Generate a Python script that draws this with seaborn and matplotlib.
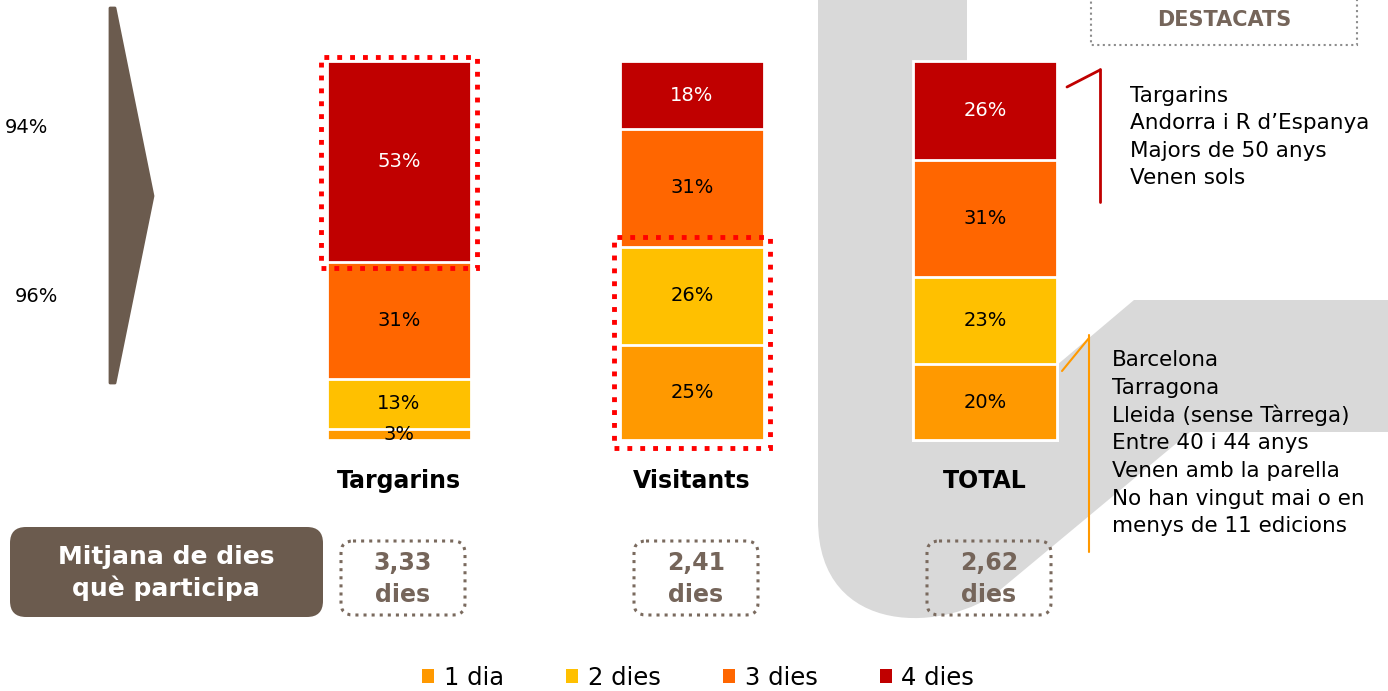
import pandas as pd
import matplotlib.pyplot as plt
import seaborn as sns
from matplotlib.patches import Polygon, FancyBboxPatch, Rectangle, PathPatch, Patch
from matplotlib.path import Path

# data
groups = ['Targarins', 'Visitants', 'TOTAL']
levels = ['1 dia', '2 dies', '3 dies', '4 dies']
dia1 = [3, 25, 20]
dies2 = [13, 26, 23]
dies3 = [31, 31, 31]
dies4 = [53, 18, 26]
mitjana = ['3,33', '2,41', '2,62']
side_pcts = ['94%', '96%']
top_notes = ['Targarins', 'Andorra i R d’Espanya', 'Majors de 50 anys', 'Venen sols']
bottom_notes = ['Barcelona', 'Tarragona', 'Lleida (sense Tàrrega)', 'Entre 40 i 44 anys',
                'Venen amb la parella', 'No han vingut mai o en', 'menys de 11 edicions']

colors = {'1 dia': '#FF9900', '2 dies': '#FFC000', '3 dies': '#FF6600', '4 dies': '#C00000'}
brown = '#6B5B4E'
grey = '#D9D9D9'

sns.set_style('white')
plt.rcParams['font.family'] = ['DejaVu Sans']
plt.rcParams['text.color'] = 'black'

df = pd.DataFrame({'grup': groups, '1 dia': dia1, '2 dies': dies2,
                   '3 dies': dies3, '4 dies': dies4})
cum = df[levels].cumsum(axis=1)

W, H = 1388, 691
fig = plt.figure(figsize=(W / 100, H / 100), dpi=100)

bg = fig.add_axes([0, 0, 1, 1], zorder=0)
bg.set_xlim(0, W)
bg.set_ylim(H, 0)
bg.axis('off')

ax = fig.add_axes([0, 0, 1, 1], zorder=1)
ax.patch.set_alpha(0)

fg = fig.add_axes([0, 0, 1, 1], zorder=2)
fg.patch.set_alpha(0)
fg.set_xlim(0, W)
fg.set_ylim(H, 0)
fg.axis('off')

# grey background band
verts = [(818, -5), (967, -5), (967, 441), (1134, 300), (1395, 300), (1395, 432),
         (1190, 432), (1000, 590), (950, 632), (818, 640), (818, 520), (818, -5)]
codes = [Path.MOVETO] + [Path.LINETO] * 7 + [Path.CURVE4] * 3 + [Path.CLOSEPOLY]
bg.add_patch(PathPatch(Path(verts, codes), facecolor=grey, edgecolor='none'))

# brown arrow on the left
bg.add_patch(Polygon([(110, 8), (115, 8), (153, 196), (115, 383), (110, 383)],
                     closed=True, facecolor=brown, edgecolor=brown, lw=2, joinstyle='round'))
bg.text(26, 127, side_pcts[0], fontsize=14, ha='center', va='center')
bg.text(36, 296, side_pcts[1], fontsize=14, ha='center', va='center')

# stacked bars, drawn as cumulative totals from the top level down
for lvl in reversed(levels):
    sns.barplot(x=df['grup'], y=cum[lvl], color=colors[lvl], saturation=1, width=0.49,
                edgecolor='white', linewidth=2, ax=ax)

for i in range(len(groups)):
    for lvl in levels:
        v = df.loc[i, lvl]
        ax.text(i, cum.loc[i, lvl] - v / 2, f'{v}%', ha='center', va='center', fontsize=14,
                color='white' if lvl == '4 dies' else 'black')
    ax.text(i, -10.8, groups[i], ha='center', va='center', fontsize=17, fontweight='bold')

# red dotted highlight boxes
ax.add_patch(Rectangle((-0.265, cum.loc[0, '3 dies'] - 1.6), 0.53, 100 - cum.loc[0, '3 dies'] + 2.6,
                       fill=False, ec='red', lw=3.5, ls=':', zorder=5))
ax.add_patch(Rectangle((1 - 0.265, -2.1), 0.53, cum.loc[1, '2 dies'] + 4.7,
                       fill=False, ec='red', lw=3.5, ls=':', zorder=5))

ax.set_xlim(-399 / 293, (W - 399) / 293)
ax.set_ylim(-(H - 440) / 3.79, 100 + 61 / 3.79)
ax.axis('off')

# DESTACATS box
fg.add_patch(Rectangle((1091, -5), 266, 50, fill=False, ec='#8C8C8C', lw=1.5, ls=':'))
fg.text(1224, 20, 'DESTACATS', ha='center', va='center', fontsize=15,
        fontweight='bold', color='#75655A')

# notes with their brackets
fg.plot([1100, 1100], [69, 202], color='#C00000', lw=2)
fg.plot([1067, 1100], [87, 70], color='#C00000', lw=2)
for k, t in enumerate(top_notes):
    fg.text(1130, 96 + 27.3 * k, t, fontsize=15.5, va='center', ha='left')

fg.plot([1089, 1089], [335, 552], color='#FF9900', lw=1.5)
fg.plot([1062, 1089], [371, 338], color='#FF9900', lw=1.5)
for k, t in enumerate(bottom_notes):
    fg.text(1112, 360 + 27.7 * k, t, fontsize=15.5, va='center', ha='left')

# average days row
fg.add_patch(FancyBboxPatch((10, 527), 313, 90, boxstyle='round,pad=0,rounding_size=16',
                            facecolor=brown, edgecolor='none'))
fg.text(166, 573, 'Mitjana de dies\nquè participa', ha='center', va='center', fontsize=18,
        fontweight='bold', color='white', linespacing=1.3)
for i, m in enumerate(mitjana):
    cx = 403 + 293 * i
    fg.add_patch(FancyBboxPatch((cx - 62, 541), 124, 74, boxstyle='round,pad=0,rounding_size=12',
                                facecolor='none', edgecolor='#7A6A5E', lw=2.2, ls=':'))
    fg.text(cx, 579, f'{m}\ndies', ha='center', va='center', fontsize=17, fontweight='bold',
            color='#75655A', linespacing=1.4)

# legend
handles = [Patch(facecolor=colors[l], edgecolor='none', label=l) for l in levels]
fig.legend(handles=handles, loc='center', bbox_to_anchor=(0.503, 1 - 678 / H), ncol=4,
           frameon=False, fontsize=17.5, handlelength=0.5, handleheight=0.5,
           handletextpad=0.4, columnspacing=2.55, labelcolor='black')

fig.savefig('out.png', dpi=100)
